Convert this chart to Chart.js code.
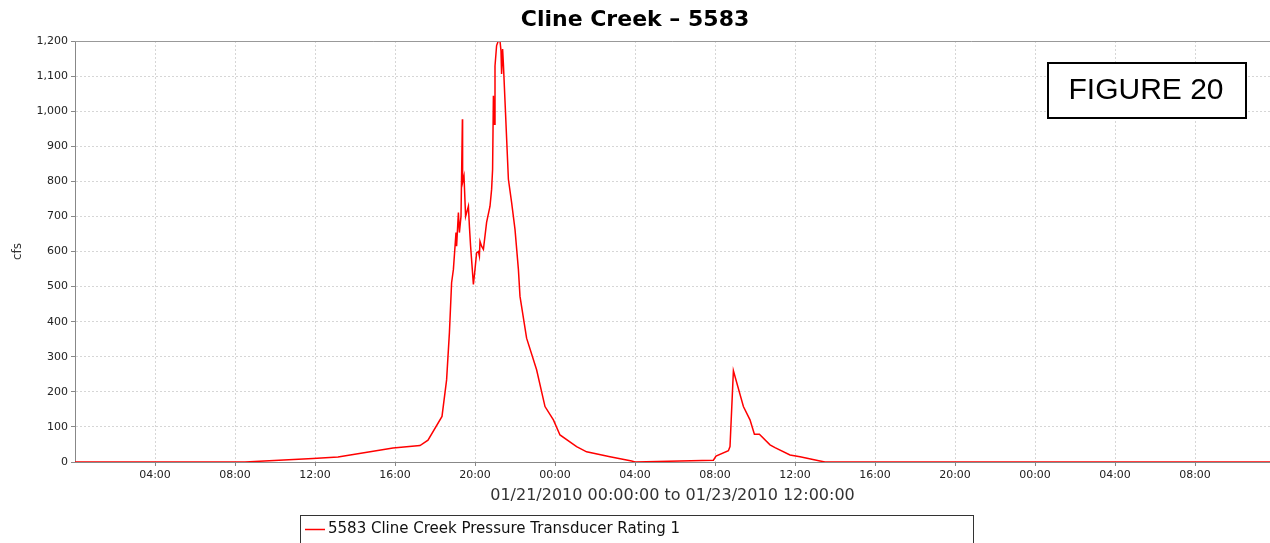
<!DOCTYPE html>
<html>
<head>
<meta charset="utf-8">
<script src="https://cdn.jsdelivr.net/npm/chart.js@4/dist/chart.umd.min.js"></script>
<style>
  html, body { margin: 0; padding: 0; background: #fff; overflow: hidden; }
  canvas { display: block; }
</style>
</head>
<body>
<canvas id="chart" width="1270" height="543"></canvas>
<script>
// hours since 01/21/2010 00:00
const hoursSinceStart = [
  0, 8.5, 11.9, 13.15, 15.9, 17.25, 17.65, 18.35, 18.58, 18.72, 18.83, 18.92,
  19.05, 19.08, 19.17, 19.22, 19.3, 19.37, 19.38, 19.45, 19.53, 19.67, 19.72,
  19.78, 19.92, 20.0, 20.08, 20.17, 20.22, 20.25, 20.33, 20.42, 20.58, 20.75,
  20.83, 20.88, 20.92, 20.95, 21.0, 21.08, 21.17, 21.25, 21.3, 21.33, 21.38,
  21.42, 21.5, 21.67, 21.83, 22.0, 22.17, 22.25, 22.58, 23.08, 23.5, 23.92,
  24.25, 25.08, 25.58, 26.75, 27.83, 28.0, 31.92, 32.05, 32.67, 32.75, 32.92,
  33.42, 33.75, 33.97, 34.22, 34.75, 35.0, 35.75, 36.25, 37.25, 37.5, 60
];
const flowCfs = [
  0, 0, 10, 14, 40, 47, 62, 130, 234, 368, 511, 549,
  654, 615, 711, 654, 700, 977, 797, 815, 700, 729, 672,
  615, 506, 549, 596, 600, 587, 629, 615, 606, 683, 729,
  777, 834, 1044, 963, 1129, 1187, 1201, 1200, 1172, 1106, 1177,
  1134, 1029, 806, 740, 663, 549, 472, 353, 263, 158, 120,
  77, 44, 29, 15, 3, 0, 5, 17, 32, 44, 260,
  158, 120, 79, 79, 49, 41, 20, 15, 3, 0, 0
];
const xTickHours = [4, 8, 12, 16, 20, 24, 28, 32, 36, 40, 44, 48, 52, 56];
const xTickLabels = ['04:00', '08:00', '12:00', '16:00', '20:00', '00:00', '04:00',
  '08:00', '12:00', '16:00', '20:00', '00:00', '04:00', '08:00'];
const yTickValues = [0, 100, 200, 300, 400, 500, 600, 700, 800, 900, 1000, 1100, 1200];

const seriesName = '5583 Cline Creek Pressure Transducer Rating 1';

const points = hoursSinceStart.map((h, i) => ({ x: h, y: flowCfs[i] }));

// legend box, top outline and the "FIGURE 20" stamp
const extras = {
  id: 'extras',
  afterDraw(chart) {
    const { ctx, chartArea: a } = chart;
    ctx.save();

    // plot outline (top edge)
    ctx.strokeStyle = '#999';
    ctx.lineWidth = 1;
    ctx.beginPath();
    ctx.moveTo(a.left, a.top + 0.5);
    ctx.lineTo(a.right, a.top + 0.5);
    ctx.stroke();

    // figure stamp
    ctx.fillStyle = '#fff';
    ctx.fillRect(1047, 62, 200, 57);
    ctx.strokeStyle = '#000';
    ctx.lineWidth = 2;
    ctx.strokeRect(1048, 63, 198, 55);
    ctx.fillStyle = '#000';
    ctx.font = '30px "Liberation Sans", Arial, sans-serif';
    ctx.textAlign = 'center';
    ctx.textBaseline = 'middle';
    ctx.fillText('FIGURE 20', 1146, 91);

    // legend
    ctx.strokeStyle = '#333';
    ctx.lineWidth = 1;
    ctx.strokeRect(300.5, 515.5, 673, 60);
    ctx.strokeStyle = '#ff0000';
    ctx.lineWidth = 1.5;
    ctx.beginPath();
    ctx.moveTo(305, 529.5);
    ctx.lineTo(325, 529.5);
    ctx.stroke();
    ctx.fillStyle = '#111';
    ctx.font = '15px "DejaVu Sans", sans-serif';
    ctx.textAlign = 'left';
    ctx.fillText(seriesName, 328, 529);

    ctx.restore();
  }
};

new Chart(document.getElementById('chart'), {
  type: 'line',
  data: {
    datasets: [{
      label: seriesName,
      data: points,
      borderColor: '#ff0000',
      borderWidth: 1.5,
      pointRadius: 0,
      tension: 0,
      fill: false
    }]
  },
  options: {
    responsive: false,
    animation: false,
    layout: { padding: { top: 0, left: 0, right: 0, bottom: 36 } },
    plugins: {
      legend: { display: false },
      tooltip: { enabled: false },
      title: {
        display: true,
        text: 'Cline Creek – 5583',
        color: '#000',
        font: { family: '"DejaVu Sans", sans-serif', size: 22, weight: 'bold', lineHeight: 1.2 },
        padding: { top: 7, bottom: 7.6 }
      }
    },
    scales: {
      x: {
        type: 'linear',
        min: 0,
        max: 59.75,
        afterBuildTicks(scale) {
          scale.ticks = xTickHours.map(v => ({ value: v }));
        },
        afterFit(scale) { scale.height = 45; },
        ticks: {
          autoSkip: false,
          maxRotation: 0,
          padding: 3,
          color: '#222',
          font: { family: '"DejaVu Sans", sans-serif', size: 11 },
          callback: (v, i) => xTickLabels[i]
        },
        grid: {
          color: '#d6d6d6',
          lineWidth: 1,
          tickLength: 4,
          tickColor: '#888',
          tickBorderDash: []
        },
        border: { display: true, color: '#888', width: 1, dash: [2, 2] },
        title: {
          display: true,
          text: '01/21/2010 00:00:00 to 01/23/2010 12:00:00',
          color: '#333',
          font: { family: '"DejaVu Sans", sans-serif', size: 16 },
          padding: { top: 0, bottom: 2 }
        }
      },
      y: {
        min: 0,
        max: 1200,
        afterBuildTicks(scale) {
          scale.ticks = yTickValues.map(v => ({ value: v }));
        },
        afterFit(scale) { scale.width = 75; },
        ticks: {
          padding: 3,
          color: '#222',
          font: { family: '"DejaVu Sans", sans-serif', size: 11 },
          callback: v => v.toLocaleString('en-US')
        },
        grid: {
          color: '#d6d6d6',
          lineWidth: 1,
          tickLength: 4,
          tickColor: '#888',
          tickBorderDash: []
        },
        border: { display: true, color: '#888', width: 1, dash: [2, 2] },
        title: {
          display: true,
          text: 'cfs',
          color: '#333',
          font: { family: '"DejaVu Sans", sans-serif', size: 12 },
          padding: { top: 11, bottom: 0 }
        }
      }
    }
  },
  plugins: [extras]
});
</script>
</body>
</html>
